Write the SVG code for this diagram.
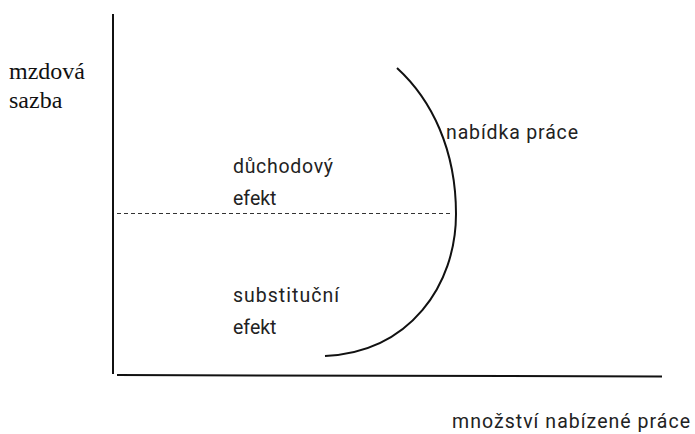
<svg xmlns="http://www.w3.org/2000/svg" width="695" height="434" viewBox="0 0 695 434">
<style>
.sans{font-family:Roboto,"Liberation Sans",Arial,sans-serif;font-size:19.5px;fill:#222}
.axis{stroke:#111;stroke-width:2;fill:none}
.curve{stroke:#111;stroke-width:2;fill:none}
.dash{stroke:#333;stroke-width:1;stroke-dasharray:4 3;fill:none}
</style>
<rect width="695" height="434" fill="#fff"/>
<g id="connectors">
<line id="y-axis" class="axis" x1="113" y1="14" x2="113" y2="374"/>
<line id="x-axis" class="axis" x1="117" y1="375" x2="662" y2="376.5"/>
<line id="divider" class="dash" x1="117" y1="213.5" x2="452" y2="213.5"/>
<path id="supply-curve" class="curve" d="M397,68 C432,100 456,150 456,214 C456,285 410,352 325,356"/>
</g>
<g id="label-y" font-family="'Liberation Serif', 'Times New Roman', Tinos, 'DejaVu Serif', 'Noto Serif', serif" font-size="24" fill="#111"><text x="9" y="79">mzdová</text><text x="9" y="108">sazba</text></g>
<g id="label-income"><text class="sans" x="233" y="173" textLength="100">důchodový</text><text class="sans" x="233" y="205">efekt</text></g>
<g id="label-subst"><text class="sans" x="233" y="302" textLength="106">substituční</text><text class="sans" x="233" y="334">efekt</text></g>
<g id="label-supply"><text class="sans" x="446" y="139" textLength="132">nabídka práce</text></g>
<g id="label-x"><text class="sans" x="452" y="428" textLength="238">množství nabízené práce</text></g>
</svg>
